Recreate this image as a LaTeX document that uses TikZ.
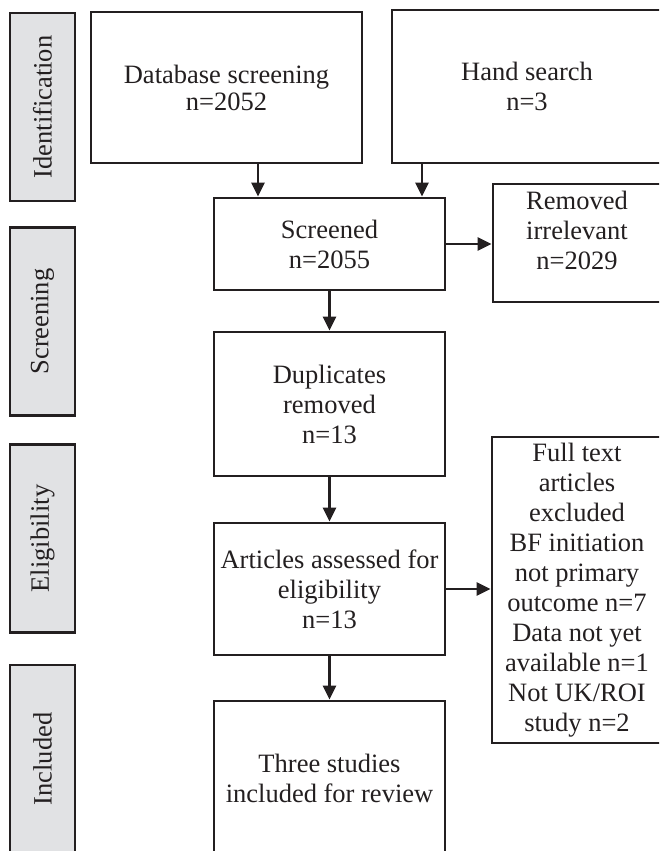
\documentclass[tikz,border=0pt]{standalone}
\usepackage{fontspec}
\setmainfont{Liberation Serif}
\usetikzlibrary{arrows.meta}
\definecolor{ink}{HTML}{231F20}
\definecolor{lab}{HTML}{E1E2E4}
\newcommand{\diafont}{\fontsize{26.5}{30}\selectfont}
\begin{document}
\begin{tikzpicture}[x=1pt,y=-1pt,
  box/.style={draw=ink, line width=2.8pt, fill=white, rectangle, inner sep=0pt, align=center, text=ink, font=\diafont},
  stage/.style={box, fill=lab, rotate=90, minimum width=188pt, minimum height=65pt},
  arr/.style={draw=ink, line width=2.8pt, -{Triangle[length=14pt,width=13pt]}}]
\clip (0,0) rectangle (659,851);
\fill[white] (0,0) rectangle (659,851);
% stage labels
\node[stage] (id)  at (42.5,107)   {Identification};
\node[stage] (scr) at (42.5,321.5) {Screening};
\node[stage] (eli) at (42.5,538.5) {Eligibility};
\node[stage] (inc) at (42.5,759)   {Included};
% boxes
\node[box, minimum width=271pt, minimum height=151pt] (db) at (226.5,87.5) {Database screening\\[-3pt]n=2052};
\node[box, minimum width=270pt, minimum height=153pt] (hand) at (527,86.5) {Hand search\\n=3};
\node[box, minimum width=231pt, minimum height=92pt] (screened) at (329.5,244) {Screened\\n=2055};
\node[box, minimum width=168pt, minimum height=118pt,
      label={[align=center, text=ink, font=\diafont, yshift=13pt]center:Removed\\irrelevant\\n=2029}] (removed) at (577,243) {};
\node[box, minimum width=231pt, minimum height=144pt] (dup) at (329.5,404) {Duplicates\\removed\\n=13};
\node[box, minimum width=231pt, minimum height=132pt] (art) at (329.5,589) {Articles assessed for\\eligibility\\n=13};
\node[box, minimum width=170pt, minimum height=306pt] (full) at (577,590) {Full text\\articles\\excluded\\BF initiation\\not primary\\outcome n=7\\Data not yet\\available n=1\\Not UK/ROI\\study n=2};
\node[box, minimum width=231pt, minimum height=154pt] (incl) at (329.5,778) {Three studies\\included for review};
% connectors
\coordinate (dbx) at (258,0);
\coordinate (hx) at (422,0);
\draw[arr] (db.south -| dbx) -- (screened.north -| dbx);
\draw[arr] (hand.south -| hx) -- (screened.north -| hx);
\draw[arr] (screened.east) -- (screened.east -| removed.west);
\draw[arr] (screened) -- (dup);
\draw[arr] (dup) -- (art);
\draw[arr] (art.east) -- (art.east -| full.west);
\draw[arr] (art) -- (incl);
\end{tikzpicture}
\end{document}
